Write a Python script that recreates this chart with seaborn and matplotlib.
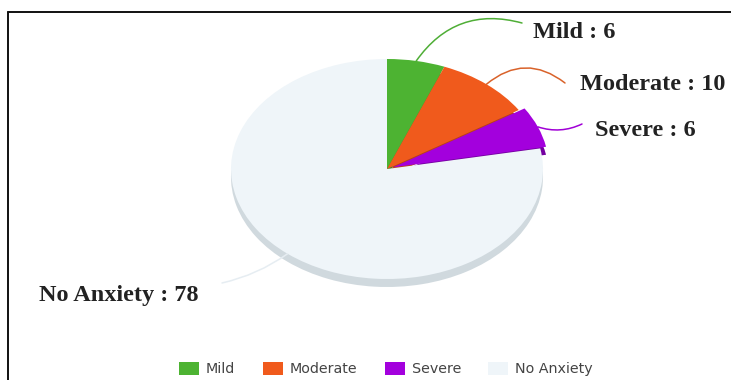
import numpy as np
import matplotlib
matplotlib.use("Agg")
import matplotlib.pyplot as plt
from matplotlib.lines import Line2D
import seaborn as sns

# Anxiety levels (percent of respondents)
categories = ["Mild", "Moderate", "Severe", "No Anxiety"]
values = [6, 10, 6, 78]

top_colors = ["#4db332", "#f05a1c", "#a300dd", "#eff5f9"]
side_colors = ["#3a8a25", "#b84315", "#7400a0", "#d0d9de"]
line_colors = ["#4fae36", "#d9622a", "#a000d6", "#e6edf2"]
explode = [0, 0, 0.04, 0]

sns.set_theme(style="white")
plt.rcParams["font.family"] = ["DejaVu Sans"]

W, H = 731, 380
fig = plt.figure(figsize=(W / 100, H / 100), dpi=100)
fig.patch.set_facecolor("white")
ax = fig.add_axes([0, 0, 1, 1])

# pixel geometry of the tilted pie
cx, cy = 387, 169      # centre (px from left / top)
rx, ry = 156, 110      # horizontal / vertical radius
depth = 8 / ry         # thickness of the disc, in axis units


def px(x, y):
    """Pixel position (from top-left) -> axis data units."""
    return (x - cx) / rx, (cy - y) / ry


# side of the disc, drawn first and shifted down
ax.pie(values, colors=side_colors, startangle=90, counterclock=False,
       explode=explode, center=(0, -depth), radius=1,
       wedgeprops=dict(linewidth=0), frame=True)
# top face
wedges, _ = ax.pie(values, colors=top_colors, startangle=90, counterclock=False,
                   explode=explode, center=(0, 0), radius=1,
                   wedgeprops=dict(linewidth=0), frame=True)
ax.set_aspect("auto")
ax.set_xlim((0 - cx) / rx, (W - cx) / rx)
ax.set_ylim((cy - H) / ry, cy / ry)
ax.axis("off")

# labels with curved leader lines from each slice's outer edge
label_pos = [(533, 32), (580, 85), (595, 131), (39, 295)]
line_end = [(522, 23), (565, 83), (582, 124), (222, 283)]
rads = [0.35, 0.4, -0.2, 0.1]
for w, cat, val, lp, le, col, rad in zip(wedges, categories, values,
                                          label_pos, line_end, line_colors, rads):
    mid = np.deg2rad((w.theta1 + w.theta2) / 2)
    cxw, cyw = w.center
    sx, sy = cxw + np.cos(mid), cyw + np.sin(mid)
    ax.annotate("", xy=(sx, sy), xytext=px(*le),
                arrowprops=dict(arrowstyle="-", color=col, lw=1.1,
                                shrinkA=0, shrinkB=0,
                                connectionstyle=f"arc3,rad={rad}"))
    ax.text(*px(*lp), f"{cat} : {val}", ha="left", va="center",
            fontsize=17.5, fontweight="bold", color="#222222",
            family=["Liberation Serif", "DejaVu Serif"])

# legend
fig.legend(wedges, categories, loc="center", bbox_to_anchor=(386 / W, 1 - 369 / H),
           ncol=4, frameon=False, fontsize=10.3, handlelength=1.4,
           handleheight=1.0, handletextpad=0.5, columnspacing=1.9,
           labelcolor="#444444")

# frame on left and top edges
fig.add_artist(Line2D([8 / W, 8 / W], [0, 1 - 12 / H], transform=fig.transFigure,
                      color="#111111", lw=1.4))
fig.add_artist(Line2D([8 / W, 1], [1 - 12 / H, 1 - 12 / H], transform=fig.transFigure,
                      color="#111111", lw=1.4))

fig.savefig("out.png", dpi=100, facecolor="white")
